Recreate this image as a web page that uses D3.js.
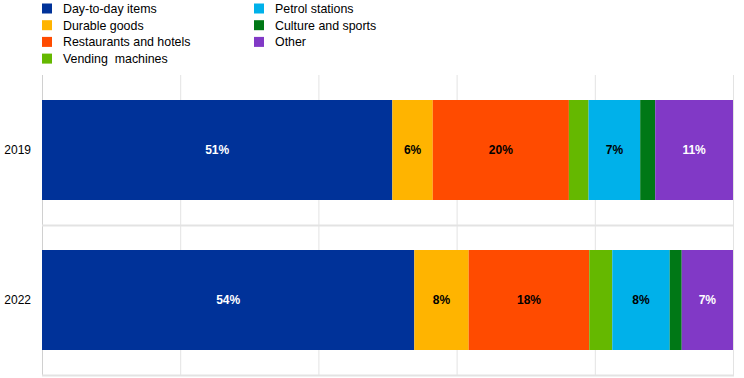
<!DOCTYPE html>
<html><head><meta charset="utf-8">
<script src="https://cdn.jsdelivr.net/npm/d3@7"></script>
<style>
html,body{margin:0;padding:0;background:#fff;}
svg{display:block;}
</style></head>
<body>
<svg id="chart" width="744" height="378"></svg>
<script>
const years = ["2019", "2022"];
const categories = ["Day-to-day items", "Durable goods", "Restaurants and hotels", "Vending  machines", "Petrol stations", "Culture and sports", "Other"];
const colors = ["#003299", "#FFB400", "#FF4B00", "#65B800", "#00B1EA", "#007816", "#8139C6"];
const labelColors = ["#fff", "#000", "#000", "#000", "#000", "#fff", "#fff"];
const values2019 = [50.7, 5.85, 19.7, 2.85, 7.47, 2.17, 11.26];
const values2022 = [53.88, 7.87, 17.45, 3.33, 8.31, 1.74, 7.42];
const labels2019 = ["51%", "6%", "20%", "", "7%", "", "11%"];
const labels2022 = ["54%", "8%", "18%", "", "8%", "", "7%"];
const xTicks = [0, 20, 40, 60, 80, 100];

(function () {
const series = [values2019, values2022];
const labelSets = [labels2019, labels2022];

const svg = d3.select("#chart");
const pLeft = 42, pRight = 733, pTop = 75, pBottom = 375;

const x = d3.scaleLinear().domain([0, 100]).range([pLeft, pRight]);
const y = d3.scaleBand().domain(years).range([pTop, pBottom]).paddingInner(1/3).paddingOuter(1/6);

// grid
const grid = svg.append("g");
grid.selectAll("line.v").data(xTicks).join("line")
  .attr("x1", d => x(d) + 0.5).attr("x2", d => x(d) + 0.5)
  .attr("y1", pTop).attr("y2", pBottom)
  .attr("stroke", d => d === 0 ? "#d0d0d0" : "#e3e3e3").attr("stroke-width", 1);
const hLines = [y.step() + pTop, pBottom];
grid.selectAll("line.h").data(hLines).join("line")
  .attr("x1", pLeft).attr("x2", pRight + 1)
  .attr("y1", d => d + 0.5).attr("y2", d => d + 0.5)
  .attr("stroke", "#e3e3e3").attr("stroke-width", 2);

// bars
years.forEach((yr, i) => {
  const vals = series[i];
  let acc = 0;
  const segs = vals.map((v, j) => { const s = {x0: acc, x1: acc + v, j, v, label: labelSets[i][j]}; acc += v; return s; });
  const g = svg.append("g");
  g.selectAll("rect").data(segs).join("rect")
    .attr("x", d => x(d.x0)).attr("width", d => x(d.x1) - x(d.x0))
    .attr("y", y(yr)).attr("height", y.bandwidth())
    .attr("fill", d => colors[d.j]);
  g.selectAll("text").data(segs.filter(d => d.label)).join("text")
    .attr("x", d => (x(d.x0) + x(d.x1)) / 2)
    .attr("y", y(yr) + y.bandwidth() / 2)
    .attr("dy", "0.35em")
    .attr("text-anchor", "middle")
    .attr("font-family", "'Liberation Sans Narrow', 'Arial Narrow', 'Liberation Sans', Arial, sans-serif")
    .attr("font-weight", "bold")
    .attr("font-size", 12)
    .attr("fill", d => labelColors[d.j])
    .text(d => d.label);
});

// y axis labels
svg.append("g").selectAll("text").data(years).join("text")
  .attr("x", 31).attr("y", d => y(d) + y.bandwidth() / 2)
  .attr("dy", "0.35em").attr("text-anchor", "end")
  .attr("font-family", "'Liberation Sans', Arial, sans-serif")
  .attr("font-size", 12).attr("fill", "#000")
  .text(d => d);

// legend
const legend = svg.append("g");
const legItems = categories.map((c, i) => ({c, i, col: i < 4 ? 0 : 1, row: i < 4 ? i : i - 4}));
const colX = [42, 254];
const rowY = [8.5, 25.2, 41.9, 58.6];
const li = legend.selectAll("g").data(legItems).join("g")
  .attr("transform", d => `translate(${colX[d.col]},${rowY[d.row]})`);
li.append("rect").attr("x", 0).attr("y", -5).attr("width", 10).attr("height", 10)
  .attr("fill", d => colors[d.i]);
li.append("text").attr("x", 21).attr("y", 0).attr("dy", "0.35em")
  .attr("font-family", "'Liberation Sans', Arial, sans-serif")
  .attr("font-size", 12.4).attr("fill", "#000")
  .style("white-space", "pre")
  .text(d => d.c);
})();
</script>
</body></html>
